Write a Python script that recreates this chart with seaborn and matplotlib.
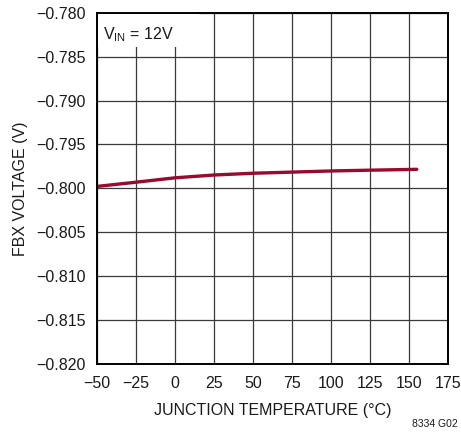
import matplotlib
matplotlib.use("Agg")
import matplotlib.pyplot as plt
from matplotlib.patches import Rectangle
import pandas as pd
import seaborn as sns

# Feedback pin voltage vs junction temperature
temperature_c = [-50, -25, 0, 25, 50, 75, 100, 125, 150, 155]
fbx_voltage_v = [-0.79978, -0.79930, -0.79880, -0.79848, -0.79828,
                 -0.79815, -0.79802, -0.79793, -0.79785, -0.79783]

x_ticks = [-50, -25, 0, 25, 50, 75, 100, 125, 150, 175]
y_ticks = [-0.820, -0.815, -0.810, -0.805, -0.800,
           -0.795, -0.790, -0.785, -0.780]

sns.set_style("white")
plt.rcParams["font.family"] = ["Liberation Sans", "DejaVu Sans"]
plt.rcParams["axes.unicode_minus"] = True

fig = plt.figure(figsize=(4.61, 4.34), dpi=100)
ax = fig.add_axes([0.2104, 0.1613, 0.9718 - 0.2104, 0.9707 - 0.1613])

df = pd.DataFrame({"temp": temperature_c, "vfbx": fbx_voltage_v})
sns.lineplot(data=df, x="temp", y="vfbx", ax=ax, color="#980A2E",
             linewidth=2.4, zorder=5)

ax.set_xlim(-50, 175)
ax.set_ylim(-0.820, -0.780)
ax.set_xticks(x_ticks)
ax.set_yticks(y_ticks)
ax.set_yticklabels([f"{v:.3f}".replace("-", "\u2212") for v in y_ticks])
ax.set_xticklabels([str(v).replace("-", "\u2212") for v in x_ticks])
ax.tick_params(axis="both", length=0, labelsize=11.5, colors="#1a1a1a")
ax.tick_params(axis="y", pad=8)
ax.tick_params(axis="x", pad=9)

ax.grid(True, color="#3a3a3a", linewidth=0.9, zorder=1)
ax.set_axisbelow(True)
for side in ["left", "right", "top", "bottom"]:
    ax.spines[side].set_visible(True)
    ax.spines[side].set_color("black")
    ax.spines[side].set_linewidth(1.4)
    ax.spines[side].set_zorder(10)

ax.set_xlabel("JUNCTION TEMPERATURE (°C)", fontsize=11.5, labelpad=8,
              color="#1a1a1a")
ax.set_ylabel("FBX VOLTAGE (V)", fontsize=11.5, labelpad=6, color="#1a1a1a")

# Condition label on a white patch in the upper-left corner
ax.add_patch(Rectangle((-49.5, -0.78387), 65, 0.00377, facecolor="white",
                       edgecolor="none", zorder=3))
ax.text(-46, -0.7825, r"V$_{\mathregular{IN}}$ = 12V", fontsize=11.5,
        va="center", ha="left", color="#1a1a1a", zorder=4)

fig.text(0.992, 0.012, "8334 G02", fontsize=7.5, ha="right", va="bottom",
         color="#1a1a1a")

fig.savefig("out.png", dpi=100)
